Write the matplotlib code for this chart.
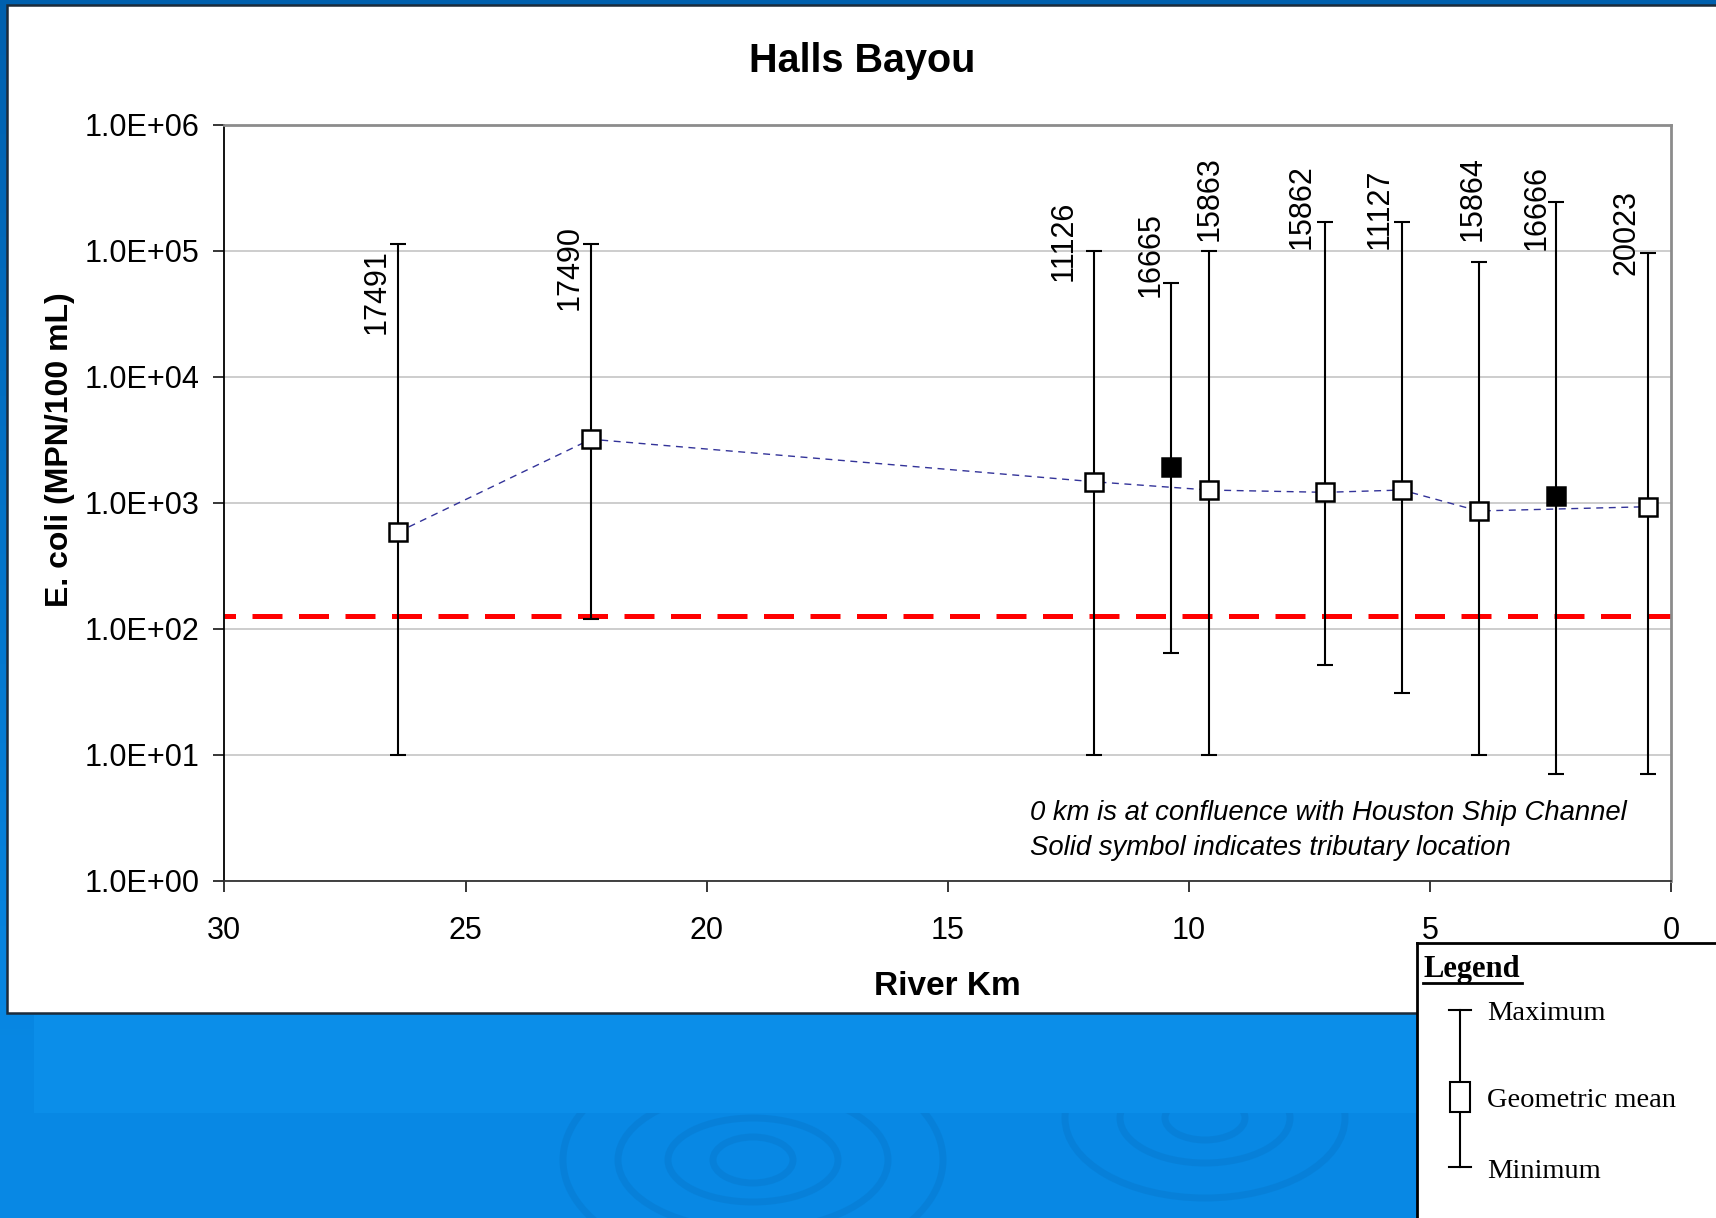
import matplotlib
matplotlib.use("Agg")
import matplotlib.pyplot as plt
import numpy as np
from matplotlib.patches import Rectangle, Ellipse
from matplotlib.ticker import FixedLocator, FuncFormatter, NullLocator

# E. coli summary per station along Halls Bayou
stations = ["17491", "17490", "11126", "16665", "15863",
            "15862", "11127", "15864", "16666", "20023"]
river_km = [26.41, 22.40, 11.97, 10.37, 9.58, 7.17, 5.58, 3.99, 2.38, 0.47]
geo_mean = [584, 3200, 1472, 1937, 1265, 1213, 1265, 863, 1135, 933]
max_val = [112700, 112700, 100000, 55800, 100000, 170000, 170000, 82000, 242600, 95600]
min_val = [10, 119, 10, 64, 10, 52, 31, 10, 7.1, 7.1]
tributary = [False, False, False, True, False, False, False, False, True, False]
standard = 126
y_ticks = [1e0, 1e1, 1e2, 1e3, 1e4, 1e5, 1e6]
x_ticks = [30, 25, 20, 15, 10, 5, 0]

# where Excel dropped the station labels (km, value at label bottom)
label_km = [26.84, 22.85, 12.59, 10.80, 9.57, 7.67, 6.04, 4.12, 2.79, 0.93]
label_at = [22000, 34100, 57300, 43400, 120000, 104000, 104000, 120000, 102000, 64600]

notes = ["0 km is at confluence with Houston Ship Channel",
         "Solid symbol indicates tributary location"]

W, H = 1716, 1218
fig = plt.figure(figsize=(W / 100, H / 100), dpi=100)

# slide background in pixel coordinates
bg = fig.add_axes([0, 0, 1, 1])
bg.set_xlim(0, W)
bg.set_ylim(H, 0)
bg.axis("off")
top = np.array([0x00, 0x60, 0xAE]) / 255
bot = np.array([0x08, 0x88, 0xE4]) / 255
t = np.clip(np.linspace(0, 1.15, 200), 0, 1)[:, None]
grad = top * (1 - t) + bot * t
bg.imshow(grad[:, None, :], extent=[0, W, H, 0], aspect="auto", zorder=0)
bg.add_patch(Rectangle((34, 1015), W, 98, facecolor="#0b8ee9", edgecolor="none", zorder=1))
for cx, cy, rx, ry in [(753, 1160, 40, 23), (753, 1160, 85, 42), (753, 1160, 135, 70),
                       (753, 1160, 190, 110), (1205, 1118, 40, 22), (1205, 1118, 85, 45),
                       (1205, 1118, 140, 80)]:
    e = Ellipse((cx, cy), 2 * rx, 2 * ry, facecolor="none", edgecolor="#0670c0",
                lw=5, alpha=0.3, zorder=1)
    bg.add_patch(e)
    e.set_clip_path(Rectangle((0, 1113), W, 200, transform=bg.transData))
# white chart panel
bg.add_patch(Rectangle((7, 5), W, 1008, facecolor="white", edgecolor="#1c2b3a",
                       lw=1.8, zorder=2))

bg.text(862, 72, "Halls Bayou", fontsize=28.5, fontweight="bold", ha="center",
        va="baseline", family="Liberation Sans", zorder=3)
bg.text(947, 995, "River Km", fontsize=24, fontweight="bold", ha="center",
        va="baseline", family="Liberation Sans", zorder=3)
bg.text(60, 450, "E. coli (MPN/100 mL)", fontsize=23, fontweight="bold", rotation=90,
        ha="center", va="center", family="Liberation Sans", zorder=3)

# main chart
ax = fig.add_axes([224.4 / W, 1 - 881 / H, 1446.6 / W, 756.2 / H])
ax.set_facecolor("white")
ax.set_yscale("log")
ax.set_ylim(1, 1e6)
ax.set_xlim(30, 0)
ax.yaxis.set_major_locator(FixedLocator(y_ticks))
ax.yaxis.set_minor_locator(NullLocator())
ax.yaxis.set_major_formatter(FuncFormatter(lambda v, p: f"{v:.1E}"))
ax.xaxis.set_major_locator(FixedLocator(x_ticks))
ax.xaxis.set_major_formatter(FuncFormatter(lambda v, p: f"{v:g}"))
ax.yaxis.grid(True, color="#c0c0c0", lw=1.1)
ax.set_axisbelow(True)
for s in ["top", "right"]:
    ax.spines[s].set_color("#8c8c8c")
    ax.spines[s].set_linewidth(2)
ax.spines["left"].set_color("black")
ax.spines["left"].set_linewidth(1.3)
ax.spines["bottom"].set_color("#333333")
ax.spines["bottom"].set_linewidth(1.3)
ax.tick_params(axis="y", direction="out", length=8, width=1.1, pad=10, labelsize=22)
ax.tick_params(axis="x", direction="out", length=8, width=1.1, pad=17, labelsize=22)
for lab in ax.get_xticklabels() + ax.get_yticklabels():
    lab.set_family("Liberation Sans")

# contact recreation standard
ax.axhline(standard, color="#ff0000", lw=3.6, ls=(3.7, (6, 3.3)), zorder=2)

# max / min whiskers
km = np.array(river_km)
gm = np.array(geo_mean)
lo = gm - np.array(min_val)
hi = np.array(max_val) - gm
ax.errorbar(km, gm, yerr=[lo, hi], fmt="none", ecolor="black", elinewidth=1.5,
            capsize=5.8, capthick=1.5, zorder=3)

trib = np.array(tributary)
ax.plot(km[~trib], gm[~trib], color="#333399", lw=1.0, ls=(0, (5, 4)), zorder=4)
ax.plot(km[~trib], gm[~trib], ls="none", marker="s", ms=13.5, mfc="white", mec="black",
        mew=1.8, zorder=5)
ax.plot(km[trib], gm[trib], ls="none", marker="s", ms=13.5, mfc="black", mec="black",
        mew=1.8, zorder=5)

for name, lx, ly in zip(stations, label_km, label_at):
    ax.text(lx, ly, name, rotation=90, ha="center", va="bottom", fontsize=22,
            family="Liberation Sans", zorder=6)

for i, line in enumerate(notes):
    ax.text(0.557, 0.090 - i * 0.0463, line, transform=ax.transAxes, fontsize=19.8,
            style="italic", ha="left", va="center", family="Liberation Sans")

# legend box (pixel coordinates)
x0, y0 = 1417, 943
lg = fig.add_axes([x0 / W, 0, (W - x0) / W, (H - y0) / H])
lg.set_xlim(x0, W)
lg.set_ylim(H, y0)
lg.set_xticks([])
lg.set_yticks([])
lg.set_facecolor("white")
for s in ["right", "bottom"]:
    lg.spines[s].set_visible(False)
for s in ["left", "top"]:
    lg.spines[s].set_color("black")
    lg.spines[s].set_linewidth(2)
lg.plot([1460, 1460], [1010, 1167], color="black", lw=1.5)
lg.plot([1449, 1471], [1010, 1010], color="black", lw=1.5)
lg.plot([1449, 1471], [1167, 1167], color="black", lw=1.5)
lg.add_patch(Rectangle((1450, 1082), 20, 30, facecolor="white", edgecolor="black", lw=1.5,
                       zorder=3))
lg.text(1423, 977, "Legend", fontsize=22, fontweight="bold", family="Liberation Serif",
        va="baseline", ha="left")
lg.plot([1423, 1522], [983, 983], color="black", lw=2)
for txt, yb in [("Maximum", 1020), ("Geometric mean", 1107), ("Minimum", 1178)]:
    lg.text(1487, yb, txt, fontsize=20.5, family="Liberation Serif", va="baseline",
            ha="left")

fig.savefig("out.png", dpi=100)
